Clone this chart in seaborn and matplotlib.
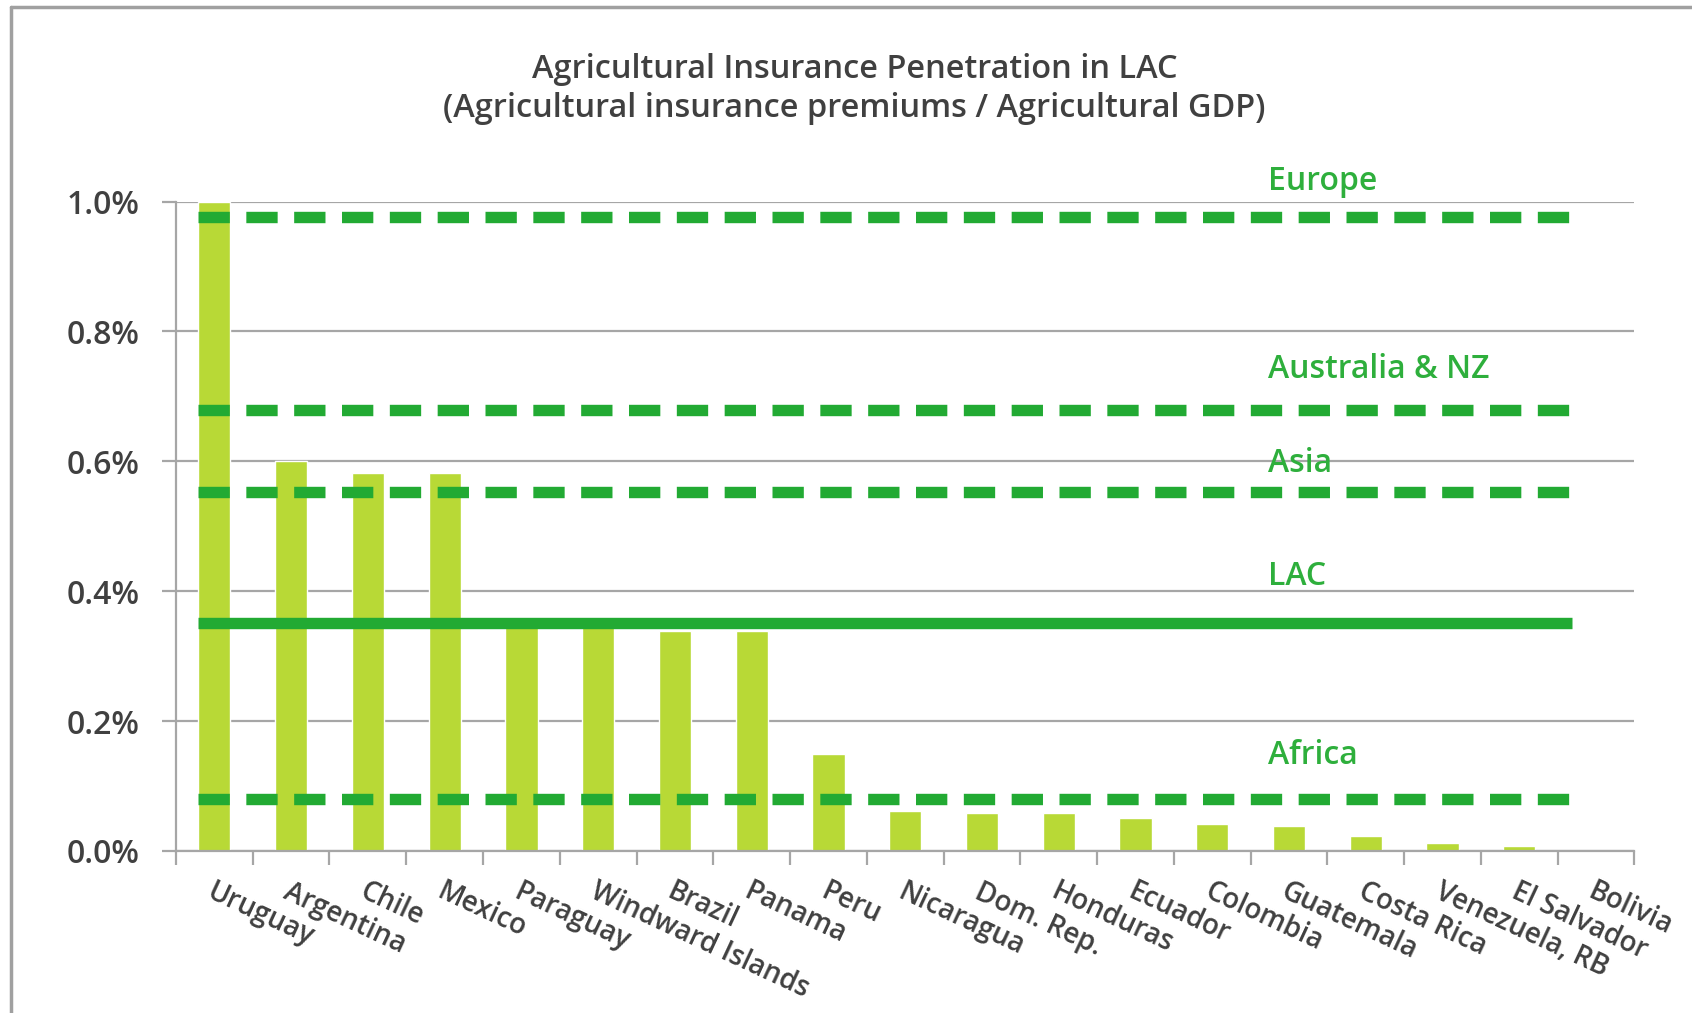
import pandas as pd
import seaborn as sns
import matplotlib.pyplot as plt
from matplotlib.lines import Line2D
from matplotlib.ticker import FixedLocator

# country penetration values (% of agricultural GDP)
countries = ["Uruguay", "Argentina", "Chile", "Mexico", "Paraguay",
             "Windward Islands", "Brazil", "Panama", "Peru", "Nicaragua",
             "Dom. Rep.", "Honduras", "Ecuador", "Colombia", "Guatemala",
             "Costa Rica", "Venezuela, RB", "El Salvador", "Bolivia"]
penetration = [1.00, 0.60, 0.582, 0.582, 0.35, 0.35, 0.338, 0.338, 0.149,
               0.062, 0.058, 0.058, 0.050, 0.042, 0.038, 0.023, 0.012,
               0.008, 0.0]

# regional benchmarks
regions = ["Europe", "Australia & NZ", "Asia", "LAC", "Africa"]
region_values = [0.977, 0.679, 0.552, 0.351, 0.0805]
region_styles = ["dashed", "dashed", "dashed", "solid", "dashed"]

#----------------------------------------------------------------------------#

sns.set_style("white")
plt.rcParams['font.family'] = ['Open Sans', 'DejaVu Sans']
plt.rcParams['font.weight'] = 'semibold'

bar_col = "#b8d936"
line_col = "#22aa33"
text_col = "#404040"
grid_col = "#a6a6a6"

df = pd.DataFrame({"country": countries, "value": penetration})

fig = plt.figure(figsize=(16.92, 10.13), dpi=100)
ax = fig.add_axes([0.104, 0.160, 0.862, 0.641])

sns.barplot(data=df, x="country", y="value", color=bar_col, width=0.42,
            saturation=1, ax=ax, zorder=2)

# benchmark lines
for name, val, style in zip(regions, region_values, region_styles):
    ln = Line2D([-0.21, 17.69], [val, val], color=line_col, lw=8.2,
                solid_capstyle="butt", dash_capstyle="butt", zorder=3)
    if style == "dashed":
        ln.set_dashes([2.75, 1.45])
    ax.add_line(ln)

label_offsets = [0.054, 0.062, 0.044, 0.071, 0.067]
for name, val, off in zip(regions, region_values, label_offsets):
    ax.text(13.72, val + off, name, color="#2eaf3c", fontsize=23,
            ha="left", va="center", clip_on=False, zorder=4)

ax.set_xlim(-0.5, len(countries) - 0.5)
ax.set_ylim(0, 1.0)
ax.set_yticks([0, 0.2, 0.4, 0.6, 0.8, 1.0])
ax.set_yticklabels(["%.1f%%" % v for v in [0, 0.2, 0.4, 0.6, 0.8, 1.0]],
                   color=text_col, fontsize=23)
ax.yaxis.grid(True, color=grid_col, lw=1.6, zorder=0)
ax.set_axisbelow(True)

ax.xaxis.set_minor_locator(FixedLocator([i - 0.5 for i in range(len(countries) + 1)]))
ax.tick_params(axis="x", which="major", length=0, pad=19)
ax.tick_params(axis="x", which="minor", length=10, width=1.6,
               color=grid_col, direction="out", bottom=True)
ax.tick_params(axis="y", length=10, width=1.6, color=grid_col,
               direction="out", left=True, pad=16)
plt.setp(ax.get_xticklabels(), rotation=-25, ha="left",
         rotation_mode="anchor", fontsize=20, color=text_col)

for s in ["top", "right"]:
    ax.spines[s].set_visible(False)
for s in ["left", "bottom"]:
    ax.spines[s].set_color(grid_col)
    ax.spines[s].set_linewidth(1.6)
ax.set_xlabel("")
ax.set_ylabel("")

fig.text(0.505, 0.931, "Agricultural Insurance Penetration in LAC",
         ha="center", va="center", fontsize=23.4, color=text_col)
fig.text(0.505, 0.893,
         "(Agricultural insurance premiums / Agricultural GDP)",
         ha="center", va="center", fontsize=23.4, color=text_col)

# frame around the chart
fig.add_artist(Line2D([0.0065, 0.0065], [0, 0.993], color="#a0a0a0", lw=2.5,
                      transform=fig.transFigure))
fig.add_artist(Line2D([0.0065, 1.0], [0.993, 0.993], color="#a0a0a0", lw=2.5,
                      transform=fig.transFigure))

plt.savefig("out.png")
